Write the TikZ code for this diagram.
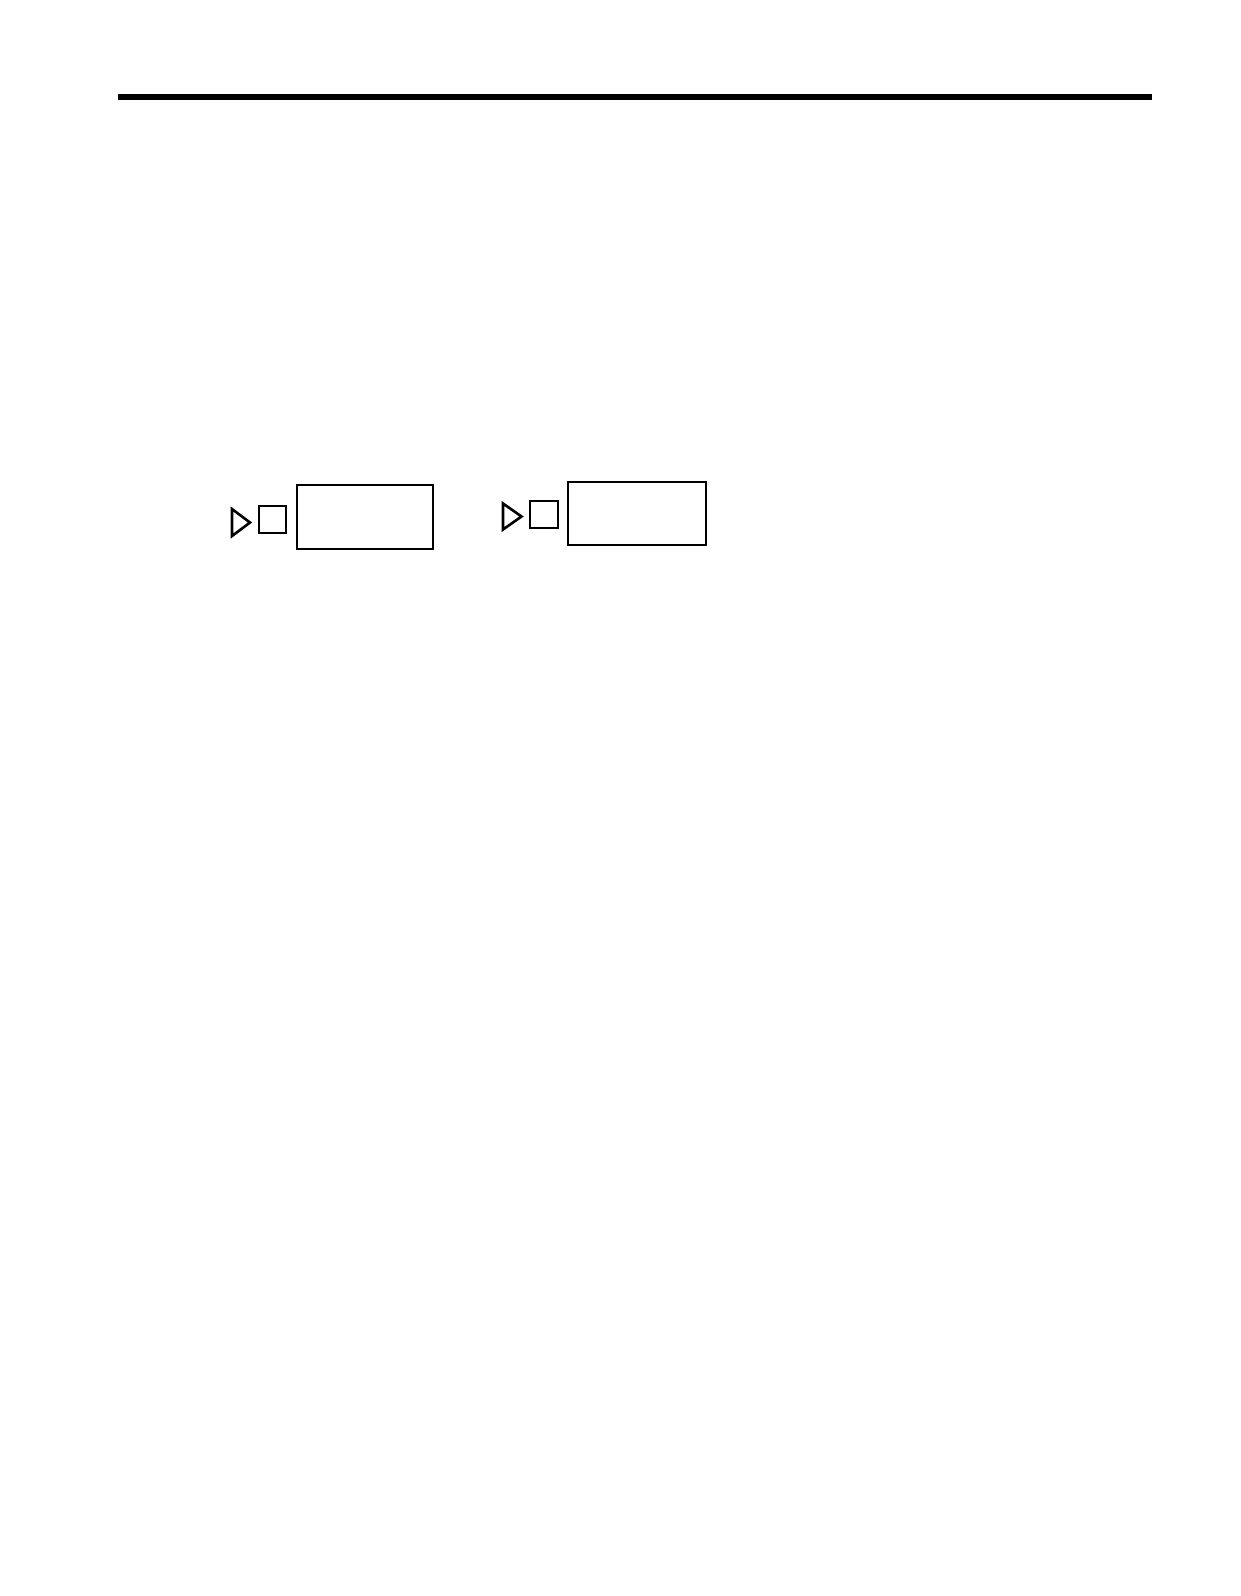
\documentclass[tikz,border=0pt]{standalone}
\begin{document}
\begin{tikzpicture}[x=1pt,y=-1pt,
  rulestyle/.style={fill=black},
  boxstyle/.style={draw=black,line width=2pt,fill=white},
  tristyle/.style={draw=black,line width=2.6pt,line join=miter,fill=white}]
\useasboundingbox[fill=white] (0,0) rectangle (1240,1596);
% top rule
\fill[rulestyle] (118,93.5) rectangle (1152,100);
% group 1
\draw[tristyle] (232,509) -- (250,522.5) -- (232,536) -- cycle;
\draw[boxstyle] (259,506) rectangle (286,533);
\draw[boxstyle] (297,485) rectangle (433,549);
% group 2
\draw[tristyle] (503,503.5) -- (521.5,516.5) -- (503,529.5) -- cycle;
\draw[boxstyle] (530,500.5) rectangle (557.5,527.5);
\draw[boxstyle] (568,482) rectangle (705.5,545);
\end{tikzpicture}
\end{document}
